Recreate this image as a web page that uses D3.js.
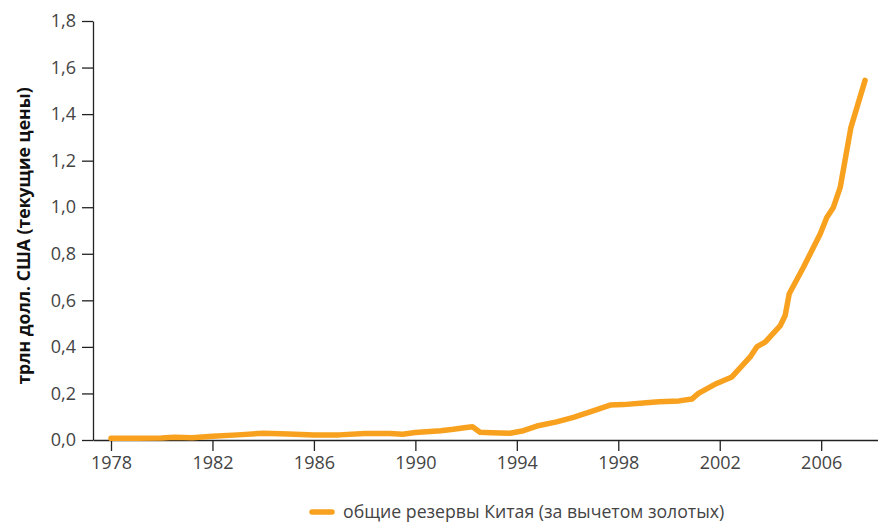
<!DOCTYPE html>
<html>
<head>
<meta charset="utf-8">
<script src="https://cdn.jsdelivr.net/npm/d3@7"></script>
<style>
  body { margin: 0; background: #fff; }
  text { font-family: "Open Sans", sans-serif; }
</style>
</head>
<body>
<div id="chart"></div>
<script>
// chart data: China's total reserves minus gold, trillion USD
const years = [1978.0, 1979.0, 1980.0, 1980.5, 1981.2, 1982.0, 1983.0, 1984.0, 1985.0, 1986.0,
  1987.0, 1988.0, 1989.0, 1989.5, 1990.0, 1991.0, 1991.5, 1992.0, 1992.25, 1992.55,
  1993.0, 1993.73, 1994.26, 1994.79, 1995.57, 1996.23, 1996.89, 1997.68, 1998.2, 1999.1,
  1999.6, 2000.4, 2000.9, 2001.16, 2001.88, 2002.48, 2003.2, 2003.46, 2003.79, 2004.38,
  2004.58, 2004.74, 2005.3, 2005.96, 2006.22, 2006.48, 2006.75, 2007.17, 2007.73];
const reserves = [0.007, 0.008, 0.009, 0.012, 0.010, 0.016, 0.022, 0.029, 0.026, 0.022,
  0.022, 0.028, 0.028, 0.025, 0.032, 0.040, 0.046, 0.054, 0.057, 0.033,
  0.031, 0.029, 0.040, 0.060, 0.078, 0.097, 0.121, 0.150, 0.152, 0.160,
  0.164, 0.168, 0.176, 0.200, 0.243, 0.271, 0.357, 0.400, 0.421, 0.490,
  0.535, 0.628, 0.742, 0.885, 0.956, 0.999, 1.085, 1.342, 1.545];
const xTicks = [1978, 1982, 1986, 1990, 1994, 1998, 2002, 2006];
const yTicks = [0, 0.2, 0.4, 0.6, 0.8, 1.0, 1.2, 1.4, 1.6, 1.8];
const yTitle = "трлн долл. США (текущие цены)";
const legendLabel = "общие резервы Китая (за вычетом золотых)";

const W = 878, H = 523;
const margin = {top: 21, right: 0, bottom: 83, left: 93};
const lineColor = "#f8a11f";

const svg = d3.select("#chart").append("svg")
  .attr("width", W).attr("height", H);

const x = d3.scaleLinear()
  .domain([1977.29, 2008.24])
  .range([margin.left, W - margin.right]);

const y = d3.scaleLinear()
  .domain([0, 1.8])
  .range([H - margin.bottom, margin.top]);

const fmt = d => d3.format(".1f")(d).replace(".", ",");

// y axis
const yAxis = svg.append("g")
  .attr("transform", `translate(${margin.left},0)`)
  .call(d3.axisLeft(y).tickValues(yTicks).tickFormat(fmt).tickSize(11).tickPadding(6).tickSizeOuter(0));

// x axis
const xAxis = svg.append("g")
  .attr("transform", `translate(0,${H - margin.bottom})`)
  .call(d3.axisBottom(x).tickValues(xTicks).tickFormat(d3.format("d")).tickSize(11).tickPadding(5).tickSizeOuter(0));

[yAxis, xAxis].forEach(g => {
  g.selectAll("path, line").attr("stroke", "#222").attr("stroke-width", 1.3);
  g.selectAll("text").attr("fill", "#444").style("font-size", "18px")
    .style("font-family", "'Open Sans', sans-serif");
});

// y title
svg.append("text")
  .attr("transform", "translate(30,236) rotate(-90)")
  .attr("text-anchor", "middle")
  .style("font-size", "17.6px")
  .style("font-weight", "bold")
  .attr("fill", "#111")
  .text(yTitle);

// line
const data = years.map((yr, i) => ({yr, v: reserves[i]}));
svg.append("path")
  .datum(data)
  .attr("fill", "none")
  .attr("stroke", lineColor)
  .attr("stroke-width", 5.5)
  .attr("stroke-linejoin", "round")
  .attr("stroke-linecap", "round")
  .attr("d", d3.line().x(d => x(d.yr)).y(d => y(d.v)));

// legend
const lg = svg.append("g").attr("transform", "translate(310,512)");
lg.append("line")
  .attr("x1", 2).attr("x2", 22).attr("y1", 0).attr("y2", 0)
  .attr("stroke", lineColor).attr("stroke-width", 5.5).attr("stroke-linecap", "round");
lg.append("text")
  .attr("x", 33).attr("y", 6)
  .style("font-size", "17.7px")
  .attr("fill", "#444")
  .text(legendLabel);
</script>
</body>
</html>
